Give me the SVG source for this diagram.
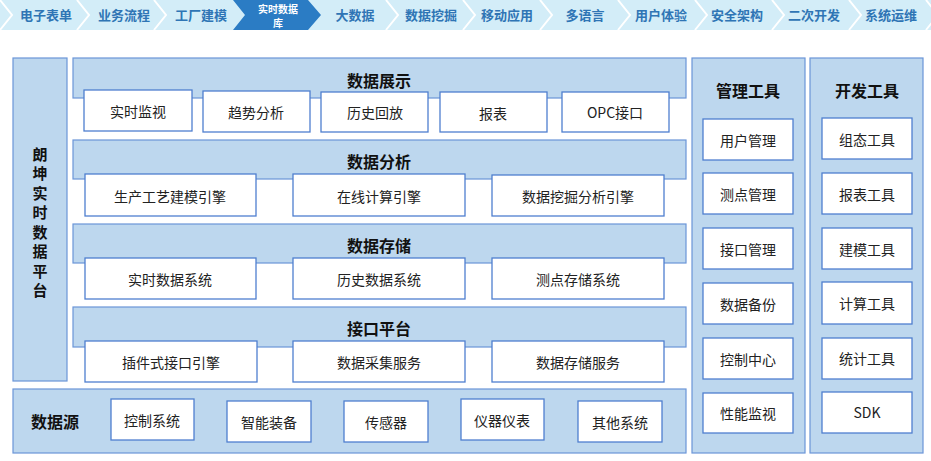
<svg xmlns="http://www.w3.org/2000/svg" width="931" height="461" viewBox="0 0 931 461">
<style>
.nav{font-family:"Noto Sans CJK SC","Noto Sans",sans-serif;font-size:13px;font-weight:bold;fill:#2f75b5;text-anchor:middle}
.navA{font-family:"Noto Sans CJK SC","Noto Sans",sans-serif;font-size:10px;font-weight:bold;fill:#ffffff;text-anchor:middle}
.band{fill:#bdd7ee;stroke:#6a95d8;stroke-width:1.2}
.box{fill:#ffffff;stroke:#4f7fcf;stroke-width:1.3}
.t{font-family:"Noto Sans CJK SC","Noto Sans",sans-serif;font-size:14px;fill:#222;text-anchor:middle;dominant-baseline:central}
.h{font-family:"Noto Sans CJK SC","Noto Sans",sans-serif;font-size:16px;font-weight:bold;fill:#111;text-anchor:middle;dominant-baseline:central}
.v{font-family:"Noto Sans CJK SC","Noto Sans",sans-serif;font-size:15px;font-weight:bold;fill:#111;text-anchor:middle;dominant-baseline:central}
.sep{fill:none;stroke:#ffffff;stroke-width:2}
</style>
<rect width="931" height="461" fill="#ffffff"/>
<g id="nav">
<rect x="0" y="0" width="931" height="30" fill="#d3edf8"/>
<polyline class="sep" points="0,0 12,15 0,30"/>
<polyline class="sep" points="77,0 89,15 77,30"/>
<polyline class="sep" points="154,0 166,15 154,30"/>
<polyline class="sep" points="386,0 398,15 386,30"/>
<polyline class="sep" points="463,0 475,15 463,30"/>
<polyline class="sep" points="540,0 552,15 540,30"/>
<polyline class="sep" points="618,0 630,15 618,30"/>
<polyline class="sep" points="695,0 707,15 695,30"/>
<polyline class="sep" points="772,0 784,15 772,30"/>
<polyline class="sep" points="849,0 861,15 849,30"/>
<polyline class="sep" points="926,0 938,15 926,30"/>
<polygon points="233,0 308,0 321,15 308,30 233,30 245,15" fill="#2b7cc4"/>
<text class="nav" x="46" y="20">电子表单</text>
<text class="nav" x="124" y="20">业务流程</text>
<text class="nav" x="201" y="20">工厂建模</text>
<text class="navA" x="278" y="12.5">实时数据</text>
<text class="navA" x="278" y="27">库</text>
<text class="nav" x="355" y="20">大数据</text>
<text class="nav" x="431" y="20">数据挖掘</text>
<text class="nav" x="507" y="20">移动应用</text>
<text class="nav" x="585" y="20">多语言</text>
<text class="nav" x="661" y="20">用户体验</text>
<text class="nav" x="737" y="20">安全架构</text>
<text class="nav" x="814" y="20">二次开发</text>
<text class="nav" x="891" y="20">系统运维</text>
</g>
<g id="platform">
<rect class="band" x="13" y="58" width="54" height="323"/>
<text class="v" x="40" y="153">朗</text>
<text class="v" x="40" y="172.5">坤</text>
<text class="v" x="40" y="192">实</text>
<text class="v" x="40" y="211.5">时</text>
<text class="v" x="40" y="231">数</text>
<text class="v" x="40" y="250.5">据</text>
<text class="v" x="40" y="270">平</text>
<text class="v" x="40" y="289.5">台</text>
</g>
<g id="display">
<rect class="band" x="73" y="58" width="613" height="40"/>
<text class="h" x="379" y="80">数据展示</text>
<rect class="box" x="84" y="90" width="108" height="41"/><text class="t" x="138" y="111">实时监视</text>
<rect class="box" x="203" y="91" width="107" height="41"/><text class="t" x="256" y="112">趋势分析</text>
<rect class="box" x="321" y="92" width="107" height="40"/><text class="t" x="375" y="112">历史回放</text>
<rect class="box" x="440" y="92" width="107" height="40"/><text class="t" x="493" y="113">报表</text>
<rect class="box" x="562" y="92" width="107" height="40"/><text class="t" x="615" y="112">OPC接口</text>
</g>
<g id="analysis">
<rect class="band" x="73" y="140" width="613" height="39"/>
<text class="h" x="379" y="161">数据分析</text>
<rect class="box" x="85" y="174" width="171" height="42"/><text class="t" x="170" y="196">生产工艺建模引擎</text>
<rect class="box" x="293" y="174" width="172" height="42"/><text class="t" x="379" y="196">在线计算引擎</text>
<rect class="box" x="492" y="175" width="172" height="41"/><text class="t" x="578" y="196">数据挖掘分析引擎</text>
</g>
<g id="storage">
<rect class="band" x="73" y="224" width="613" height="39"/>
<text class="h" x="379" y="245">数据存储</text>
<rect class="box" x="85" y="258" width="171" height="41"/><text class="t" x="170" y="279">实时数据系统</text>
<rect class="box" x="293" y="258" width="172" height="41"/><text class="t" x="379" y="279">历史数据系统</text>
<rect class="box" x="492" y="258" width="172" height="41"/><text class="t" x="578" y="279">测点存储系统</text>
</g>
<g id="interface">
<rect class="band" x="73" y="307" width="613" height="40"/>
<text class="h" x="379" y="328">接口平台</text>
<rect class="box" x="85" y="341" width="172" height="41"/><text class="t" x="171" y="362">插件式接口引擎</text>
<rect class="box" x="293" y="341" width="172" height="41"/><text class="t" x="379" y="362">数据采集服务</text>
<rect class="box" x="492" y="341" width="172" height="41"/><text class="t" x="578" y="362">数据存储服务</text>
</g>
<g id="source">
<rect class="band" x="13" y="389" width="673" height="64"/>
<text class="h" x="55" y="421">数据源</text>
<rect class="box" x="111" y="399" width="83" height="41"/><text class="t" x="152" y="420">控制系统</text>
<rect class="box" x="227" y="401" width="84" height="41"/><text class="t" x="269" y="422">智能装备</text>
<rect class="box" x="344" y="401" width="84" height="41"/><text class="t" x="386" y="422">传感器</text>
<rect class="box" x="461" y="399" width="83" height="41"/><text class="t" x="502" y="420">仪器仪表</text>
<rect class="box" x="578" y="401" width="84" height="41"/><text class="t" x="620" y="422">其他系统</text>
</g>
<g id="mgmt">
<rect class="band" x="692" y="58" width="113" height="395"/>
<text class="h" x="748" y="90">管理工具</text>
<rect class="box" x="703" y="119" width="90" height="41"/><text class="t" x="748" y="140">用户管理</text>
<rect class="box" x="703" y="173" width="90" height="41"/><text class="t" x="748" y="194">测点管理</text>
<rect class="box" x="703" y="228" width="90" height="41"/><text class="t" x="748" y="249">接口管理</text>
<rect class="box" x="703" y="283" width="90" height="41"/><text class="t" x="748" y="304">数据备份</text>
<rect class="box" x="703" y="338" width="90" height="41"/><text class="t" x="748" y="359">控制中心</text>
<rect class="box" x="703" y="393" width="90" height="40"/><text class="t" x="748" y="413">性能监视</text>
</g>
<g id="dev">
<rect class="band" x="810" y="58" width="113" height="395"/>
<text class="h" x="867" y="90">开发工具</text>
<rect class="box" x="822" y="118" width="90" height="41"/><text class="t" x="867" y="139">组态工具</text>
<rect class="box" x="822" y="173" width="90" height="41"/><text class="t" x="867" y="194">报表工具</text>
<rect class="box" x="822" y="228" width="90" height="41"/><text class="t" x="867" y="249">建模工具</text>
<rect class="box" x="822" y="282" width="90" height="42"/><text class="t" x="867" y="303">计算工具</text>
<rect class="box" x="822" y="338" width="90" height="41"/><text class="t" x="867" y="358">统计工具</text>
<rect class="box" x="822" y="392" width="90" height="41"/><text class="t" x="867" y="412">SDK</text>
</g>
<g id="connectors"></g>
</svg>
